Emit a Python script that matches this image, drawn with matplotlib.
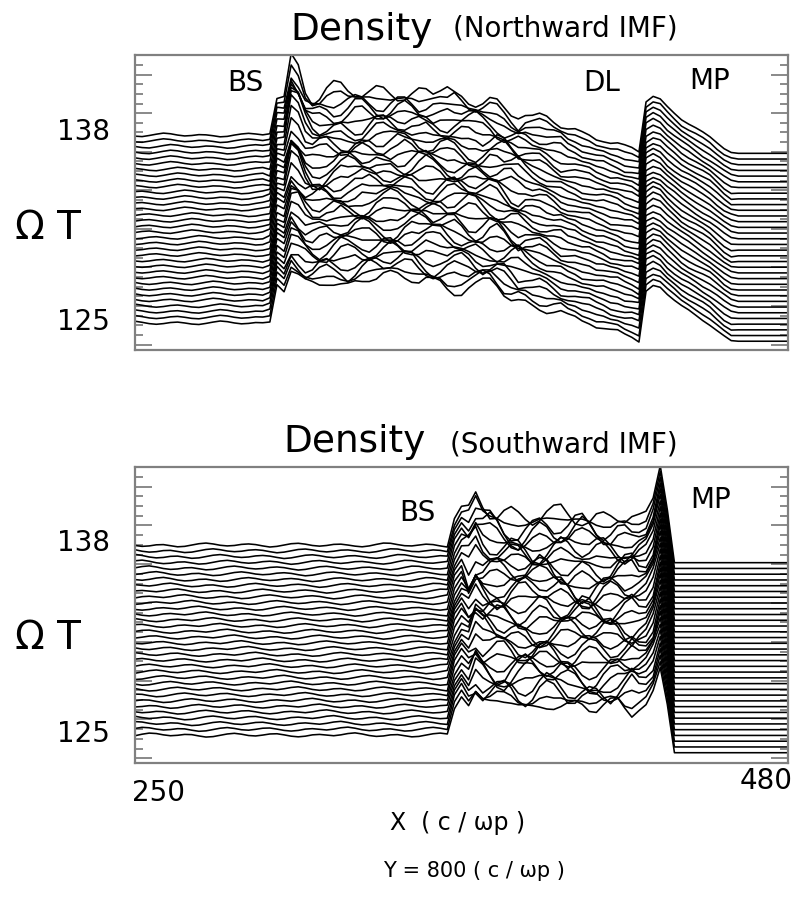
import numpy as np
import matplotlib
matplotlib.use('Agg')
import matplotlib.pyplot as plt
from matplotlib.ticker import FixedLocator, NullFormatter

# ── DATA ──────────────────────────────────────────────────────────────────────
x_grid = np.arange(250, 480.1, 2.5)          # X (c/ωp), 93 samples
n_traces = 34
north_t = np.linspace(124.91, 137.77, n_traces)   # ΩT of each profile
south_t = np.linspace(124.93, 137.86, n_traces)

# mean density offset (in ΩT units) along x, Northward IMF
north_level = [0, 0, 0, 0, 0, 0, 0, 0, 0, 0,
               0, 0, 0, 0, 0, 0, 0, 0, 0,
               0.1, 2.6, 2.0, 2.9, 2.8, 2.6, 2.6,
               2.7, 2.8, 2.8, 2.9, 2.9, 3.0, 3.0, 3.0, 3.0, 3.0, 3.0, 3.0,
               3.0, 3.0, 2.9, 2.9, 2.8, 2.8, 2.7, 2.7, 2.6, 2.5, 2.4, 2.3, 2.3, 2.2,
               2.0, 1.8, 1.6, 1.5, 1.3, 1.2, 1.0,
               0.8, 0.6, 0.4, 0.3, 0.1, 0.0, -0.2,
               -0.3, -0.5, -0.6, -0.8, -0.9, -1.1,
               2.3, 2.6, 2.4, 1.9, 1.5, 1.1, 0.8, 0.5, 0.2, -0.1, -0.5, -0.9, -1.2,
               -1.25, -1.25, -1.25, -1.25, -1.25, -1.25, -1.25, -1.25]

# overshoot behind the bow shock (grows with time)
north_bs_idx = [21, 22, 23, 24, 25]
north_bs_shape = [0.5, 1.8, 1.4, 0.5, 0.1]
north_bs_amp = [0.2, 0.2, 0.3, 0.3, 0.3, 0.4, 0.4, 0.4, 0.5, 0.5, 0.5, 0.6,
                0.6, 0.6, 0.7, 0.7, 0.7, 0.8, 0.8, 0.8, 0.9, 0.9, 0.9, 1.0,
                1.0, 1.0, 1.1, 1.1, 1.1, 1.2, 1.2, 1.2, 1.3, 1.4]

# sheath fluctuation patterns, Northward IMF
north_wave = [0.0, 0.3, 0.7, 0.5, -0.1, -0.4, -0.2, 0.2, 0.9, 0.6,
              -0.1, -0.6, -0.9, -0.7, -0.2, 0.1, 0.3, 0.2, -0.1, -0.3,
              0.0, 0.5, 1.0, 0.8, 0.3, -0.2, -0.6, -0.4, 0.0, 0.4,
              0.2, -0.3, -0.8, -0.5, 0.1, 0.6, 0.4, 0.0, -0.2, -0.1,
              0.3, 0.7, 0.4, -0.2, -0.7, -1.0, -0.6, 0.0, 0.3, 0.5,
              0.8, 0.6, 0.1, -0.3, -0.2, 0.1, 0.0, -0.4, -0.7, -0.3,
              0.4, 0.9, 0.7, 0.2, -0.3, -0.5, -0.3, 0.2, 0.4, 0.1,
              -0.4, -0.8, -0.6, 0.0, 0.3, 0.2, 0.5, 0.9, 0.5, -0.1,
              -0.5, -0.4, 0.0, 0.2, -0.1, -0.6, -0.9, -0.5, 0.2, 0.7,
              1.0, 0.6, 0.0, -0.3, -0.1, 0.3, 0.2, -0.3, -0.7, -0.6,
              -0.2, 0.3, 0.6, 0.4, 0.1, 0.3, 0.8, 0.5, -0.2, -0.8,
              -0.7, -0.2, 0.2, 0.0, -0.3, -0.1, 0.4, 0.7, 0.3, -0.3,
              -0.6, -0.4, 0.1, 0.6, 0.8, 0.4, -0.1, -0.5, -0.3, 0.0]
north_wave2 = [0.2, -0.2, -0.5, -0.3, 0.3, 0.6, 0.4, 0.0, -0.4, -0.8,
               -0.5, 0.1, 0.5, 0.2, -0.1, 0.2, 0.7, 0.8, 0.3, -0.3,
               -0.6, -0.3, 0.2, 0.4, 0.0, -0.5, -0.7, -0.2, 0.4, 0.9,
               0.6, 0.0, -0.4, -0.2, 0.2, 0.1, -0.3, -0.8, -0.6, 0.0,
               0.5, 0.8, 0.5, 0.1, -0.2, -0.5, -0.3, 0.3, 0.6, 0.3,
               -0.2, -0.7, -0.9, -0.4, 0.2, 0.4, 0.1, 0.3, 0.7, 0.5,
               0.0, -0.4, -0.3, 0.1, 0.0, -0.5, -0.8, -0.4, 0.3, 0.8,
               0.7, 0.2, -0.2, 0.0, 0.4, 0.2, -0.3, -0.6, -0.2, 0.3,
               0.5, 0.1, -0.4, -0.7, -0.3, 0.4, 0.9, 0.6, 0.0, -0.3,
               -0.1, 0.2, 0.0, -0.5, -0.9, -0.6, 0.1, 0.5, 0.3, 0.0,
               0.3, 0.7, 0.4, -0.2, -0.6, -0.3, 0.2, 0.1, -0.4, -0.6,
               -0.2, 0.4, 0.8, 0.6, 0.0, -0.4, -0.2, 0.3, 0.5, 0.1,
               -0.5, -0.8, -0.3, 0.3, 0.6, 0.2, -0.2, -0.1, 0.2, 0.0]

# mean density offset along x, Southward IMF
south_level = [0, 0, 0, 0, 0, 0, 0, 0, 0, 0,
               0, 0, 0, 0, 0, 0, 0, 0, 0, 0,
               0, 0, 0, 0, 0, 0, 0, 0, 0, 0,
               0, 0, 0, 0, 0, 0, 0, 0, 0, 0,
               0, 0, 0, 0, 0,
               1.8, 2.6, 2.0, 2.9, 2.4,
               2.3, 2.2, 2.1, 2.1, 2.0, 2.0, 2.0, 2.1, 2.1, 2.0,
               2.0, 1.9, 1.9, 1.9, 1.8, 1.8, 1.8, 1.8, 1.9, 1.9, 2.0,
               2.0, 2.2, 2.8, 4.4, 2.0, -1.2,
               -1.2, -1.2, -1.2, -1.2, -1.2, -1.2, -1.2, -1.2,
               -1.2, -1.2, -1.2, -1.2, -1.2, -1.2, -1.2, -1.2]

# magnetopause density spike (grows with time)
south_mp_idx = [73, 74, 75]
south_mp_shape = [0.4, 1.0, 0.4]
south_mp_amp = [0.2, 0.2, 0.25, 0.3, 0.3, 0.35, 0.4, 0.4, 0.45, 0.5, 0.5, 0.55,
                0.6, 0.6, 0.65, 0.7, 0.7, 0.7, 0.75, 0.8, 0.8, 0.8, 0.85, 0.9,
                0.9, 0.9, 0.95, 0.95, 1.0, 1.0, 1.0, 1.0, 1.0, 1.0]

# sheath fluctuation patterns, Southward IMF
south_wave = [0.2, 0.7, 1.0, 0.6, -0.1, -0.7, -0.9, -0.4, 0.1, 0.3,
              0.1, -0.3, -0.5, -0.1, 0.5, 0.9, 0.7, 0.1, -0.5, -1.0,
              -0.8, -0.2, 0.4, 0.6, 0.3, 0.0, 0.2, 0.6, 0.4, -0.2,
              -0.7, -0.9, -0.5, 0.2, 0.8, 1.0, 0.5, -0.1, -0.4, -0.3,
              0.0, 0.2, -0.2, -0.7, -0.8, -0.3, 0.4, 0.9, 0.8, 0.2,
              -0.4, -0.6, -0.2, 0.3, 0.5, 0.1, -0.5, -0.9, -0.6, 0.1,
              0.7, 1.0, 0.6, 0.0, -0.3, -0.1, 0.3, 0.4, 0.0, -0.6,
              -1.0, -0.7, -0.1, 0.5, 0.8, 0.5, 0.1, -0.2, 0.1, 0.6,
              0.9, 0.5, -0.2, -0.8, -0.9, -0.4, 0.2, 0.5, 0.3, -0.1,
              -0.3, 0.1, 0.6, 1.0, 0.7, 0.0, -0.6, -0.8, -0.4, 0.0,
              0.2, -0.1, -0.5, -0.4, 0.2, 0.8, 0.9, 0.4, -0.3, -0.8,
              -0.7, -0.2, 0.3, 0.5, 0.2, -0.3, -0.6, -0.2, 0.5, 0.9,
              0.6, 0.0, -0.6, -0.9, -0.5, 0.1, 0.6, 0.7, 0.3, -0.2]
south_wave2 = [-0.3, 0.2, 0.6, 0.4, 0.0, 0.3, 0.8, 0.6, -0.1, -0.7,
               -0.9, -0.4, 0.2, 0.5, 0.2, -0.4, -0.7, -0.3, 0.4, 0.9,
               0.7, 0.1, -0.3, -0.1, 0.3, 0.2, -0.4, -0.9, -0.7, -0.1,
               0.5, 0.8, 0.4, -0.2, -0.4, 0.0, 0.5, 0.6, 0.1, -0.5,
               -0.8, -0.5, 0.1, 0.3, 0.0, -0.3, 0.1, 0.7, 1.0, 0.5,
               -0.2, -0.6, -0.4, 0.1, 0.2, -0.3, -0.8, -0.6, 0.0, 0.6,
               0.9, 0.5, -0.1, -0.4, -0.2, 0.3, 0.5, 0.2, -0.4, -0.9,
               -0.6, 0.0, 0.6, 0.8, 0.4, -0.2, -0.5, -0.2, 0.3, 0.4,
               0.0, -0.5, -0.8, -0.4, 0.3, 0.9, 0.8, 0.2, -0.3, -0.4,
               0.0, 0.4, 0.2, -0.4, -0.9, -0.7, 0.0, 0.6, 0.8, 0.3,
               -0.2, -0.3, 0.1, 0.5, 0.3, -0.3, -0.7, -0.5, 0.2, 0.8,
               0.9, 0.4, -0.3, -0.7, -0.4, 0.2, 0.4, 0.1, -0.3, 0.0,
               0.5, 0.8, 0.4, -0.2, -0.6, -0.5, 0.0, 0.4, 0.3, -0.1]

# ── HELPERS ───────────────────────────────────────────────────────────────────
idx = np.arange(len(x_grid))
north_env = np.select([idx < 19, idx < 22, idx < 55, idx < 61, idx < 72, idx < 85],
                      [0.0, 0.2, 1.0, 0.5, 0.25, 0.15], 0.0)
south_env = np.select([idx < 45, idx < 47, idx < 71, idx < 74],
                      [0.0, 0.2, 1.0, 0.4], 0.0)
north_up = (idx < 19).astype(float)
south_up = (idx < 45).astype(float)


def build(t, level, wave, wave2, env, up_mask, wa, wb, up_amp, up_step,
          bump_idx, bump_shape, bump_amp):
    level = np.asarray(level, float)
    wave = np.asarray(wave, float)
    wave2 = np.asarray(wave2, float)
    m = len(level)
    bump = np.zeros(m)
    bump[bump_idx] = bump_shape
    traces = []
    for i, t0 in enumerate(t):
        a = np.roll(wave, -i)[:m]                  # crests drift toward -x
        b = np.roll(wave2, int(0.8 * i) + 20)[:m]  # crests drift toward +x
        up = np.roll(wave2, -(17 + int(up_step * i)))[:m]
        traces.append(t0 + level + bump_amp[i] * bump
                      + env * (wa * a + wb * b) + up_mask * up_amp * up)
    return traces


north = build(north_t, north_level, north_wave, north_wave2, north_env, north_up,
              0.55, 0.55, 0.15, 0.25, north_bs_idx, north_bs_shape, north_bs_amp)
south = build(south_t, south_level, south_wave, south_wave2, south_env, south_up,
              0.65, 0.65, 0.15, 1.0, south_mp_idx, south_mp_shape, south_mp_amp)

# ── FIGURE ────────────────────────────────────────────────────────────────────
W, H = 795, 901
fig = plt.figure(figsize=(W / 100, H / 100), dpi=100, facecolor='white')


def fx(px):
    return px / W


def fy(py):
    return 1 - py / H


FRAME = '#808080'


def panel(rect, traces, ylim, ticks_top):
    ax = fig.add_axes(rect)
    for y in traces:
        ax.plot(x_grid, y, color='black', lw=1.15)
    ax.set_xlim(250, 480)
    ax.set_ylim(*ylim)
    ax.set_xticks([])
    for s in ax.spines.values():
        s.set_color(FRAME)
        s.set_linewidth(1.6)
    pos = np.arange(ticks_top, ylim[0], -0.66)
    ax.yaxis.set_major_locator(FixedLocator(pos[1::4]))
    ax.yaxis.set_minor_locator(FixedLocator(pos))
    ax.yaxis.set_major_formatter(NullFormatter())
    ax.tick_params(axis='y', which='both', direction='in', left=True, right=True,
                   color=FRAME, width=1.3)
    ax.tick_params(axis='y', which='major', length=12)
    ax.tick_params(axis='y', which='minor', length=6)
    tr = ax.get_yaxis_transform()
    ax.text(-0.038, 138, '138', transform=tr, ha='right', va='center', fontsize=20)
    ax.text(-0.038, 125, '125', transform=tr, ha='right', va='center', fontsize=20)
    return ax


ax1 = panel([fx(135), fy(350), fx(788) - fx(135), fy(55) - fy(350)],
            north, (123.06, 143.25), 142.57)
ax2 = panel([fx(135), fy(763), fx(788) - fx(135), fy(467) - fy(763)],
            south, (123.03, 143.17), 142.49)

# titles
fig.text(fx(290), fy(30), 'Density', fontsize=27, ha='left', va='center')
fig.text(fx(453), fy(28), '(Northward IMF)', fontsize=20, ha='left', va='center')
fig.text(fx(283), fy(442), 'Density', fontsize=27, ha='left', va='center')
fig.text(fx(450), fy(444), '(Southward IMF)', fontsize=20, ha='left', va='center')

# boundary labels
fig.text(fx(245), fy(83), 'BS', fontsize=20, ha='center', va='center')
fig.text(fx(602), fy(83), 'DL', fontsize=20, ha='center', va='center')
fig.text(fx(710), fy(81), 'MP', fontsize=20, ha='center', va='center')
fig.text(fx(417), fy(513), 'BS', fontsize=20, ha='center', va='center')
fig.text(fx(711), fy(500), 'MP', fontsize=20, ha='center', va='center')

# y-axis name
fig.text(fx(48), fy(228), 'Ω T', fontsize=28, ha='center', va='center')
fig.text(fx(48), fy(638), 'Ω T', fontsize=28, ha='center', va='center')

# x-axis labels
fig.text(fx(158), fy(793), '250', fontsize=20, ha='center', va='center')
fig.text(fx(766), fy(781), '480', fontsize=20, ha='center', va='center')
fig.text(fx(458), fy(823), 'X  ( c / ωp )', fontsize=17, ha='center', va='center')
fig.text(fx(474), fy(871), 'Y = 800 ( c / ωp )', fontsize=15, ha='center', va='center')

fig.savefig('out.png', dpi=100, facecolor='white')
